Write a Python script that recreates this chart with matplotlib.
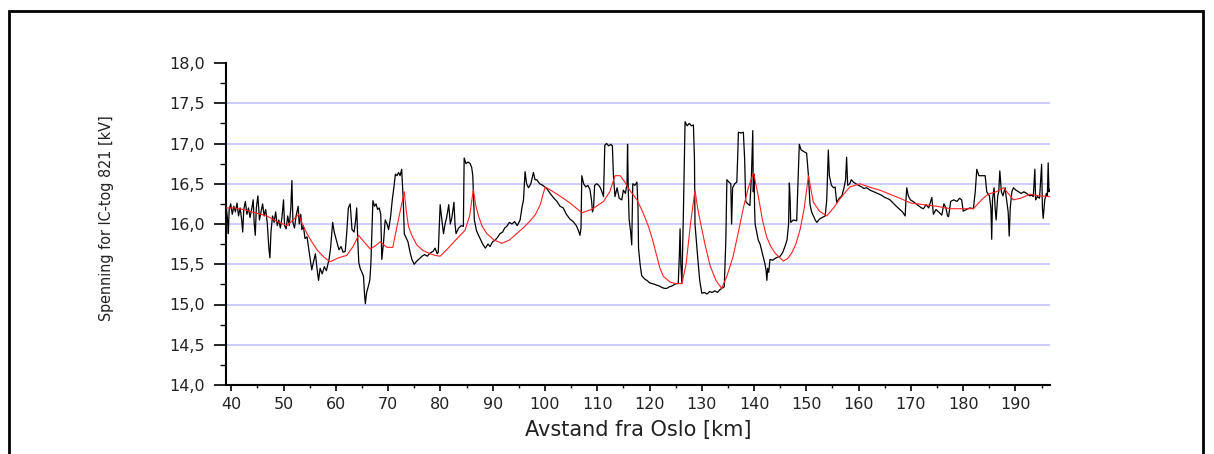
import matplotlib
matplotlib.use("Agg")
import matplotlib.pyplot as plt
from matplotlib.ticker import MultipleLocator, FuncFormatter
from matplotlib.patches import Rectangle

# Measured voltage (black)
black_km = [39.05, 39.3, 39.45, 39.6, 39.9, 40.2, 40.5, 40.8, 41.1, 41.4, 41.7, 42.0, 42.2, 42.4, 42.7,
            43.0, 43.3, 43.6, 43.9, 44.2, 44.4, 44.6, 44.8, 45.1, 45.4, 45.7, 46.0, 46.3, 46.6, 46.9,
            47.2, 47.4, 47.6, 47.9, 48.2, 48.5, 48.8, 49.1, 49.4, 49.7, 50.0, 50.2, 50.5, 50.8, 51.1,
            51.4, 51.6, 51.8, 52.1, 52.4, 52.8, 53.0, 53.3, 53.5, 53.8, 54.1, 54.5, 54.8, 55.1, 55.4,
            55.7, 56.1, 56.4, 56.7, 57.0, 57.4, 57.8, 58.2, 58.7, 59.0, 59.4, 59.7, 60.2, 60.6, 61.0,
            61.4, 61.8, 62.1, 62.4, 62.75, 63.1, 63.5, 63.8, 64.0, 64.2, 64.4, 64.7, 65.0, 65.3, 65.5,
            65.65, 65.9, 66.2, 66.5, 66.7, 66.9, 67.1, 67.4, 67.7, 68.0, 68.3, 68.6, 68.8, 69.1, 69.45,
            69.8, 70.1, 70.5, 70.8, 71.1, 71.4, 71.7, 72.0, 72.3, 72.6, 72.9, 73.1, 73.5, 73.8, 74.2,
            74.55, 75.0, 75.5, 76.0, 76.5, 77.0, 77.5, 78.05, 78.6, 79.0, 79.4, 79.6, 79.96, 80.2, 80.6,
            80.9, 81.2, 81.6, 81.9, 82.2, 82.6, 82.8, 83.0, 83.5, 84.0, 84.4, 84.55, 84.9, 85.3, 85.7,
            86.0, 86.2, 86.5, 86.9, 87.3, 87.6, 88.1, 88.6, 89.1, 89.5, 90.0, 90.5, 91.0, 91.4, 91.9,
            92.3, 92.7, 93.2, 93.7, 94.2, 94.7, 95.25, 95.6, 95.9, 96.2, 96.5, 96.85, 97.3, 97.8, 98.1,
            98.45, 99.0, 99.6, 100.35, 101.0, 101.6, 102.3, 102.9, 103.5, 104.1, 104.8, 105.4, 106.0, 106.4, 106.7,
            106.9, 107.05, 107.4, 107.8, 108.2, 108.6, 108.9, 109.1, 109.3, 109.5, 109.9, 110.3, 110.6, 110.9, 111.2,
            111.45, 111.8, 112.2, 112.6, 112.9, 113.1, 113.4, 113.8, 114.2, 114.7, 115.0, 115.4, 115.7, 115.8, 115.95,
            116.1, 116.4, 116.6, 116.8, 117.2, 117.6, 117.8, 117.9, 118.2, 118.5, 119.0, 119.5, 120.0, 120.5, 121.0,
            121.4, 121.9, 122.4, 122.9, 123.3, 123.8, 124.3, 124.8, 125.2, 125.5, 125.7, 125.85, 126.0, 126.2, 126.5,
            126.8, 127.2, 127.6, 128.0, 128.4, 128.6, 128.7, 129.0, 129.2, 129.6, 130.0, 130.5, 131.0, 131.5, 132.0,
            132.5, 133.0, 133.4, 133.8, 134.3, 134.6, 134.8, 135.2, 135.55, 135.7, 135.9, 136.3, 136.7, 136.9, 137.0,
            137.5, 137.95, 138.2, 138.4, 138.8, 139.2, 139.5, 139.75, 139.85, 140.0, 140.1, 140.2, 140.5, 140.8, 141.15,
            141.5, 141.8, 142.1, 142.3, 142.45, 142.6, 142.8, 143.05, 143.6, 144.2, 145.0, 145.5, 145.9, 146.3, 146.6,
            146.75, 146.9, 147.0, 147.5, 148.15, 148.4, 148.65, 149.0, 149.5, 150.05, 150.4, 150.7, 151.0, 151.35, 151.7,
            152.0, 152.5, 153.0, 153.6, 153.9, 154.2, 154.4, 154.8, 155.2, 155.5, 155.8, 156.3, 156.8, 157.2, 157.5,
            157.7, 157.9, 158.3, 158.6, 159.0, 159.5, 160.0, 160.6, 161.0, 161.55, 162.2, 162.9, 163.6, 164.3, 165.0,
            165.4, 166.0, 166.6, 167.2, 167.9, 168.4, 168.9, 169.05, 169.2, 169.5, 169.9, 170.4, 171.0, 171.6, 172.0,
            172.4, 172.9, 173.4, 174.0, 174.3, 174.8, 175.3, 175.9, 176.3, 176.7, 177.0, 177.2, 177.6, 178.2, 178.8,
            179.3, 179.7, 180.0, 180.6, 181.3, 181.95, 182.3, 182.6, 183.0, 183.6, 184.2, 184.5, 185.0, 185.3, 185.45,
            185.6, 185.9, 186.1, 186.3, 186.6, 186.8, 187.0, 187.3, 187.6, 188.0, 188.3, 188.6, 188.8, 189.0, 189.3,
            189.6, 190.1, 190.6, 191.1, 191.6, 192.15, 192.7, 193.1, 193.4, 193.7, 193.85, 194.2, 194.6, 195.0, 195.15,
            195.3, 195.6, 195.9, 196.1, 196.25, 196.4, 196.6]
black_kv = [16.21, 16.05, 15.88, 16.18, 16.25, 16.12, 16.22, 16.15, 16.26, 16.1, 16.2, 16.05, 15.9, 16.18, 16.28,
            16.12, 16.2, 16.08, 16.18, 16.3, 16.0, 15.86, 16.2, 16.35, 16.05, 16.15, 16.25, 16.1, 16.18, 16.0,
            15.7, 15.58, 15.9, 16.1, 16.02, 16.15, 15.98, 16.05, 15.95, 16.08, 16.3, 15.98, 15.94, 16.1, 15.98,
            16.2, 16.54, 16.02, 15.95, 16.1, 16.22, 16.0, 16.12, 15.93, 15.98, 15.82, 15.84, 15.7, 15.56, 15.43,
            15.52, 15.63, 15.45, 15.3, 15.45, 15.38, 15.47, 15.42, 15.56, 15.7, 16.02, 15.9, 15.78, 15.68, 15.72,
            15.65, 15.66, 15.9, 16.2, 16.25, 15.93, 15.9, 16.05, 16.2, 15.8, 15.52, 15.44, 15.4, 15.35, 15.12,
            15.01, 15.15, 15.22, 15.3, 15.49, 15.9, 16.29, 16.22, 16.25, 16.18, 16.2, 16.12, 15.56, 15.75, 16.05,
            16.0, 15.93, 16.1, 16.3, 16.45, 16.62, 16.6, 16.64, 16.6, 16.68, 16.3, 15.88, 15.82, 15.78, 15.65,
            15.56, 15.5, 15.54, 15.57, 15.6, 15.62, 15.6, 15.64, 15.66, 15.7, 15.63, 15.65, 16.24, 16.1, 15.88,
            16.0, 16.08, 16.24, 16.0, 16.08, 16.27, 16.0, 15.88, 15.95, 15.98, 15.97, 16.82, 16.75, 16.77, 16.75,
            16.7, 16.6, 16.05, 15.92, 15.86, 15.82, 15.75, 15.7, 15.75, 15.72, 15.78, 15.8, 15.84, 15.88, 15.9,
            15.95, 15.97, 16.02, 16.0, 16.03, 15.98, 16.05, 16.2, 16.3, 16.65, 16.5, 16.45, 16.5, 16.64, 16.55,
            16.55, 16.5, 16.48, 16.44, 16.38, 16.33, 16.28, 16.22, 16.2, 16.12, 16.06, 16.03, 15.98, 15.92, 15.86,
            15.95, 16.6, 16.5, 16.46, 16.48, 16.43, 16.3, 16.15, 16.2, 16.48, 16.5, 16.48, 16.45, 16.4, 16.34,
            16.98, 17.0, 16.97, 16.99, 16.97, 16.6, 16.34, 16.45, 16.32, 16.3, 16.42, 16.38, 16.5, 16.99, 16.4,
            16.06, 15.9, 15.74, 16.5, 16.48, 16.52, 16.2, 15.7, 15.5, 15.36, 15.32, 15.3, 15.27, 15.26, 15.25,
            15.24, 15.23, 15.21, 15.2, 15.2, 15.22, 15.23, 15.25, 15.26, 15.26, 15.6, 15.94, 15.5, 15.26, 16.2,
            17.27, 17.22, 17.25, 17.22, 17.23, 16.8, 16.0, 15.75, 15.6, 15.3, 15.14, 15.15, 15.13, 15.16, 15.15,
            15.17, 15.15, 15.18, 15.2, 15.22, 15.8, 16.55, 16.52, 16.5, 16.0, 16.45, 16.5, 16.52, 16.9, 17.14,
            17.13, 17.14, 16.8, 16.28, 16.25, 16.23, 16.6, 17.16, 16.4, 16.62, 16.2, 16.0, 15.9, 15.8, 15.75,
            15.66, 15.58, 15.5, 15.42, 15.3, 15.45, 15.4, 15.56, 15.55, 15.58, 15.6, 15.65, 15.72, 15.8, 16.0,
            16.51, 16.3, 16.02, 16.05, 16.04, 16.5, 16.99, 16.92, 16.9, 16.88, 16.6, 16.24, 16.15, 16.1, 16.05,
            16.02, 16.06, 16.08, 16.1, 16.3, 16.92, 16.6, 16.48, 16.45, 16.46, 16.27, 16.32, 16.35, 16.45, 16.55,
            16.83, 16.48, 16.5, 16.55, 16.52, 16.5, 16.48, 16.46, 16.44, 16.45, 16.42, 16.4, 16.38, 16.36, 16.33,
            16.32, 16.3, 16.26, 16.22, 16.18, 16.15, 16.1, 16.3, 16.45, 16.35, 16.3, 16.28, 16.25, 16.22, 16.2,
            16.19, 16.24, 16.2, 16.33, 16.12, 16.18, 16.15, 16.11, 16.25, 16.2, 16.1, 16.09, 16.28, 16.3, 16.28,
            16.32, 16.3, 16.16, 16.18, 16.2, 16.19, 16.4, 16.68, 16.6, 16.6, 16.6, 16.4, 16.35, 16.2, 15.81,
            16.3, 16.45, 16.2, 16.05, 16.35, 16.4, 16.66, 16.4, 16.35, 16.45, 16.3, 16.15, 15.85, 16.2, 16.4,
            16.45, 16.42, 16.4, 16.38, 16.4, 16.38, 16.35, 16.36, 16.34, 16.68, 16.3, 16.34, 16.32, 16.74, 16.2,
            16.07, 16.3, 16.38, 16.35, 16.76, 16.4, 16.43]

# Simulated voltage (red)
red_km = [39.1, 40.5, 42.35, 44.5, 46.8, 48.8, 50.65, 51.8, 52.9, 53.6, 54.5, 55.4, 56.4, 57.7, 58.9,
          60.5, 62.1, 63.3, 64.35, 65.5, 66.6, 67.6, 68.5, 69.2, 69.8, 70.9, 71.8, 72.6, 73.1, 73.5,
          73.9, 74.6, 75.5, 76.7, 78.05, 79.0, 79.96, 81.5, 83.2, 84.7, 85.6, 86.3, 86.8, 87.3, 88.0,
          88.9, 90.3, 91.75, 93.2, 94.6, 96.0, 97.2, 98.2, 99.1, 99.6, 100.05, 101.6, 103.5, 105.2, 107.05,
          108.9, 111.2, 112.4, 113.4, 114.4, 115.3, 116.0, 117.6, 118.7, 119.8, 120.6, 121.4, 122.0, 122.65, 123.9,
          125.0, 126.2, 127.0, 127.8, 128.7, 129.2, 129.65, 130.6, 131.6, 132.7, 133.8, 134.8, 136.0, 137.0, 137.95,
          138.9, 139.9, 140.4, 140.85, 141.6, 142.4, 143.2, 144.0, 145.6, 146.4, 147.2, 148.0, 148.8, 149.6, 150.4,
          150.9, 151.35, 152.5, 153.9, 155.2, 156.4, 158.3, 160.25, 162.0, 164.05, 166.0, 167.9, 170.0, 172.5, 175.0,
          177.5, 180.0, 181.95, 183.5, 184.75, 186.3, 187.7, 188.6, 189.6, 191.0, 192.8, 194.5, 196.6]
red_kv = [16.2, 16.2, 16.18, 16.14, 16.1, 16.03, 15.98, 16.05, 16.12, 16.0, 15.88, 15.78, 15.68, 15.59, 15.53,
          15.58, 15.61, 15.72, 15.86, 15.77, 15.69, 15.73, 15.78, 15.74, 15.71, 15.71, 16.0, 16.25, 16.4, 16.15,
          15.97, 15.85, 15.74, 15.67, 15.63, 15.61, 15.6, 15.7, 15.82, 15.92, 16.1, 16.43, 16.22, 16.1, 15.97,
          15.88, 15.8, 15.76, 15.8, 15.88, 15.96, 16.04, 16.12, 16.24, 16.36, 16.46, 16.4, 16.32, 16.24, 16.14,
          16.18, 16.28, 16.4, 16.6, 16.6, 16.52, 16.44, 16.3, 16.15, 15.97, 15.8, 15.6, 15.45, 15.35, 15.28,
          15.26, 15.26, 15.5, 15.98, 16.42, 16.2, 16.05, 15.75, 15.48, 15.3, 15.2, 15.35, 15.6, 15.9, 16.2,
          16.45, 16.64, 16.48, 16.33, 16.05, 15.84, 15.72, 15.64, 15.54, 15.57, 15.64, 15.75, 15.93, 16.2, 16.6,
          16.42, 16.27, 16.16, 16.1, 16.2, 16.31, 16.46, 16.5, 16.46, 16.42, 16.37, 16.32, 16.26, 16.24, 16.22,
          16.19, 16.19, 16.19, 16.3, 16.37, 16.4, 16.45, 16.38, 16.3, 16.32, 16.37, 16.35, 16.34]

x_ticks = [40, 50, 60, 70, 80, 90, 100, 110, 120, 130, 140, 150, 160, 170, 180, 190]
y_ticks = [14.0, 14.5, 15.0, 15.5, 16.0, 16.5, 17.0, 17.5, 18.0]
grid_levels = [14.5, 15.0, 15.5, 16.0, 16.5, 17.0, 17.5]
x_label = "Avstand fra Oslo [km]"
y_label = "Spenning for IC-tog 821 [kV]"

W, H = 1214, 454
fig = plt.figure(figsize=(W / 100, H / 100), dpi=100)
fig.patch.set_facecolor("white")

# outer frame
fig.patches.append(Rectangle((9 / W, -0.05), (1203 - 9) / W, 1.05 - 11 / H,
                             transform=fig.transFigure, fill=False,
                             edgecolor="black", linewidth=2.0))

ax = fig.add_axes([226 / W, 1 - 385 / H, (1050 - 226) / W, (385 - 63) / H])
ax.set_xlim(39.0, 196.6)
ax.set_ylim(14.0, 18.0)

for g in grid_levels:
    ax.axhline(g, color="#c8c8ff", linewidth=1.3, zorder=0)

ax.plot(black_km, black_kv, color="black", linewidth=0.9, zorder=2)
ax.plot(red_km, red_kv, color="#ff2020", linewidth=0.8, zorder=3)

for s in ["top", "right"]:
    ax.spines[s].set_visible(False)
for s in ["left", "bottom"]:
    ax.spines[s].set_linewidth(1.5)

ax.set_xticks(x_ticks)
ax.set_yticks(y_ticks)
ax.xaxis.set_minor_locator(MultipleLocator(5))
ax.yaxis.set_minor_locator(MultipleLocator(0.25))
ax.yaxis.set_major_formatter(FuncFormatter(lambda v, p: f"{v:.1f}".replace(".", ",")))

ax.tick_params(axis="y", which="major", direction="out", length=9, width=1.2, pad=6,
               labelsize=11.5, colors="black")
ax.tick_params(axis="y", which="minor", direction="out", length=4.5, width=1.0)
ax.tick_params(axis="x", which="major", direction="out", length=4.5, width=1.2, pad=4,
               labelsize=11.5)
ax.tick_params(axis="x", which="minor", direction="out", length=2.2, width=1.0)
for lab in ax.get_xticklabels() + ax.get_yticklabels():
    lab.set_fontfamily(["DejaVu Sans"])
    lab.set_color("#222222")

ax.set_xlabel(x_label, fontsize=15, family=["DejaVu Sans"], labelpad=6, color="#222222")
fig.text(107 / W, 1 - 218 / H, y_label, rotation=90, ha="center", va="center",
         fontsize=11.5, family=["Liberation Sans Narrow", "DejaVu Sans"], fontstretch="condensed",
         color="#222222")

fig.savefig("out.png", dpi=100, facecolor="white")
